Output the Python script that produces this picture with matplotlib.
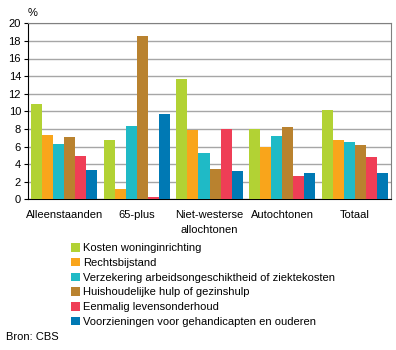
import numpy as np
import matplotlib.pyplot as plt

plt.rcParams['font.family'] = ['Liberation Sans', 'DejaVu Sans']

# Gegevens
groepen = ['Alleenstaanden', '65-plus', 'Niet-westerse\nallochtonen', 'Autochtonen', 'Totaal']
reeksen = [
    'Kosten woninginrichting',
    'Rechtsbijstand',
    'Verzekering arbeidsongeschiktheid of ziektekosten',
    'Huishoudelijke hulp of gezinshulp',
    'Eenmalig levensonderhoud',
    'Voorzieningen voor gehandicapten en ouderen',
]
kosten_woninginrichting = [10.8, 6.7, 13.7, 8.0, 10.1]
rechtsbijstand = [7.3, 1.2, 7.9, 5.9, 6.7]
verzekering = [6.3, 8.3, 5.3, 7.2, 6.5]
huishoudelijke_hulp = [7.1, 18.6, 3.4, 8.2, 6.2]
levensonderhoud = [4.9, 0.3, 8.0, 2.7, 4.8]
voorzieningen = [3.3, 9.7, 3.2, 3.0, 3.0]
waarden = [kosten_woninginrichting, rechtsbijstand, verzekering,
           huishoudelijke_hulp, levensonderhoud, voorzieningen]

kleuren = ['#b2d234', '#f9a51b', '#1fbac6', '#b9822f', '#ef3e56', '#0079b4']

fig = plt.figure(figsize=(3.96, 3.5), dpi=100)
ax = fig.add_axes([28 / 396, 1 - 199.3 / 350, 363 / 396, 176 / 350])

x = np.arange(len(groepen))
breedte = 0.152
for i, (naam, vals) in enumerate(zip(reeksen, waarden)):
    ax.bar(x + (i - 2.5) * breedte, vals, breedte, color=kleuren[i],
           label=naam, zorder=3)

ax.set_xlim(-0.5, len(groepen) - 0.5)
ax.set_ylim(0, 20)
ax.set_yticks(range(0, 21, 2))
ax.yaxis.grid(True, color='#a6a6a6', linewidth=1, zorder=0)
ax.tick_params(axis='y', length=3, labelsize=8, pad=2)
ax.tick_params(axis='x', length=0, labelsize=8, pad=8)
ax.set_xticks(x)
ax.set_xticklabels(groepen, linespacing=1.55, va='top')
for kant in ['top', 'right']:
    ax.spines[kant].set_color('#808080')
for kant in ['left', 'bottom']:
    ax.spines[kant].set_color('black')

fig.text(28 / 396, 1 - 13 / 350, '%', fontsize=8, va='center')

handles, labels = ax.get_legend_handles_labels()
fig.legend(handles, labels, loc='upper left', bbox_to_anchor=(71 / 396, 1 - 243 / 350),
           frameon=False, fontsize=8, handlelength=0.8, handleheight=0.8,
           handletextpad=0.25, labelspacing=0.42, borderpad=0, borderaxespad=0)

fig.text(6 / 396, 1 - 337 / 350, 'Bron: CBS', fontsize=8, va='center')

fig.savefig('out.png', dpi=100)
